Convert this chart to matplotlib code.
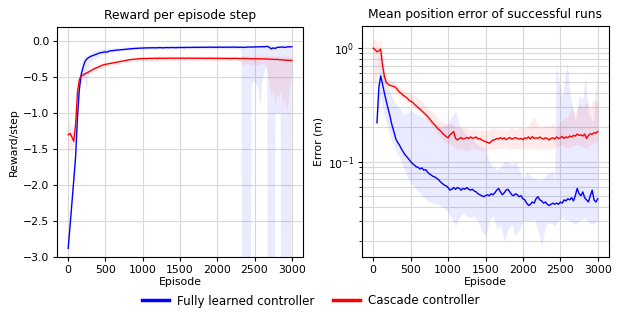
import numpy as np
import matplotlib
matplotlib.use("Agg")
import matplotlib.pyplot as plt

# ---------------- data ----------------
ep_mean = list(range(0, 3001, 25))

# Left: reward per step (means)
rew_fully = [
    -2.88, -2.57, -2.25, -1.93, -1.60, -1.05, -0.66, -0.46, -0.36, -0.28,
    -0.245, -0.225, -0.21, -0.20, -0.19, -0.18, -0.17, -0.16, -0.155, -0.15,
    -0.145, -0.15, -0.135, -0.13, -0.128, -0.125, -0.122, -0.12, -0.117, -0.115,
    -0.112, -0.11, -0.107, -0.104, -0.102, -0.10, -0.098, -0.097, -0.095, -0.094,
    -0.093, -0.092, -0.090, -0.091, -0.089, -0.090, -0.088, -0.090, -0.089, -0.087,
    -0.088, -0.090, -0.087, -0.086, -0.088, -0.086, -0.085, -0.087, -0.088, -0.085,
    -0.086, -0.084, -0.086, -0.085, -0.083, -0.085, -0.084, -0.082, -0.084, -0.083,
    -0.082, -0.084, -0.082, -0.081, -0.083, -0.082, -0.080, -0.082, -0.081, -0.083,
    -0.082, -0.080, -0.081, -0.083, -0.081, -0.080, -0.082, -0.081, -0.079, -0.081,
    -0.080, -0.082, -0.083, -0.080, -0.085, -0.082, -0.080, -0.078, -0.080, -0.079,
    -0.078, -0.076, -0.077, -0.075, -0.074, -0.075, -0.072, -0.070, -0.085, -0.105,
    -0.090, -0.100, -0.085, -0.082, -0.080, -0.078, -0.085, -0.080, -0.075, -0.077,
    -0.074,
]
rew_cascade = [
    -1.30, -1.28, -1.33, -1.39, -1.15, -0.70, -0.53, -0.48, -0.47, -0.45,
    -0.44, -0.425, -0.41, -0.395, -0.38, -0.37, -0.36, -0.345, -0.335, -0.325,
    -0.32, -0.315, -0.31, -0.305, -0.30, -0.295, -0.29, -0.285, -0.28, -0.275,
    -0.27, -0.265, -0.26, -0.255, -0.252, -0.25, -0.247, -0.245, -0.243, -0.240,
    -0.240, -0.238, -0.240, -0.237, -0.236, -0.238, -0.236, -0.235, -0.237, -0.235,
    -0.236, -0.234, -0.236, -0.235, -0.233, -0.235, -0.234, -0.236, -0.233, -0.235,
    -0.234, -0.233, -0.235, -0.236, -0.234, -0.233, -0.235, -0.234, -0.236, -0.234,
    -0.235, -0.236, -0.234, -0.235, -0.237, -0.235, -0.234, -0.236, -0.235, -0.237,
    -0.236, -0.235, -0.237, -0.236, -0.238, -0.236, -0.237, -0.239, -0.237, -0.238,
    -0.236, -0.238, -0.240, -0.238, -0.237, -0.239, -0.238, -0.240, -0.242, -0.240,
    -0.243, -0.240, -0.242, -0.244, -0.243, -0.245, -0.243, -0.246, -0.248, -0.247,
    -0.250, -0.252, -0.250, -0.254, -0.256, -0.258, -0.260, -0.262, -0.263, -0.265,
    -0.265,
]

# Left: bands
band_rf_ep = [0, 25, 50, 75, 100, 125, 150, 175, 200, 225, 250, 275, 300, 350, 400,
              450, 500, 600, 700, 800, 900, 1000, 1500, 2000, 2300, 2325, 2335, 2450,
              2460, 2500, 2550, 2580, 2600, 2640, 2670, 2680, 2770, 2780, 2850, 2860,
              2990, 3000]
band_rf_lo = [-2.90, -2.60, -2.30, -2.00, -1.70, -1.20, -0.80, -0.60, -0.50, -0.55,
              -0.70, -0.45, -0.30, -0.26, -0.23, -0.20, -0.18, -0.16, -0.14, -0.13,
              -0.12, -0.115, -0.11, -0.11, -0.11, -0.12, -6.0, -6.0,
              -0.60, -0.55, -0.65, -0.93, -0.60, -0.40, -0.35, -6.0, -6.0, -1.00,
              -1.00, -6.0, -6.0, -0.60]
band_rf_hi = [-2.85, -2.52, -2.20, -1.88, -1.50, -0.90, -0.55, -0.33, -0.27, -0.22,
              -0.20, -0.19, -0.17, -0.14, -0.12, -0.115, -0.11, -0.10, -0.09, -0.08,
              -0.075, -0.07, -0.065, -0.065, -0.065, -0.065, -0.06, -0.06,
              -0.06, -0.06, -0.06, -0.06, -0.05, -0.05, -0.05, -0.06, -0.06, -0.07,
              -0.06, -0.06, -0.05, -0.05]

band_rc_ep = [0, 25, 50, 75, 100, 125, 150, 175, 200, 250, 300, 400, 500, 600, 700,
              800, 900, 1000, 1100, 1200, 1300, 1400, 1500, 1700, 1900, 2100, 2300,
              2350, 2400, 2450, 2500, 2550, 2600, 2650, 2675, 2700, 2725, 2750, 2775,
              2800, 2825, 2850, 2875, 2900, 2925, 2950, 2975, 3000]
band_rc_lo = [-1.55, -1.50, -1.50, -1.48, -1.25, -0.78, -0.58, -0.52, -0.50, -0.47,
              -0.44, -0.39, -0.35, -0.33, -0.31, -0.29, -0.28, -0.27, -0.27, -0.27,
              -0.27, -0.27, -0.265, -0.265, -0.27, -0.27, -0.27,
              -0.33, -0.30, -0.33, -0.32, -0.34, -0.30, -0.33, -0.45, -0.60, -0.75,
              -0.65, -0.88, -0.70, -0.80, -0.65, -0.92, -0.75, -0.97, -0.85, -0.60,
              -0.50]
band_rc_hi = [-1.13, -1.15, -1.20, -1.30, -1.05, -0.62, -0.49, -0.45, -0.44, -0.41,
              -0.38, -0.33, -0.29, -0.27, -0.25, -0.23, -0.22, -0.21, -0.21, -0.20,
              -0.20, -0.20, -0.205, -0.205, -0.205, -0.21, -0.21,
              -0.20, -0.20, -0.21, -0.20, -0.20, -0.20, -0.20, -0.20, -0.20, -0.20,
              -0.20, -0.21, -0.20, -0.20, -0.21, -0.21, -0.20, -0.22, -0.20, -0.21,
              -0.21]

# Right: position error (means)
err_fully = [
    np.nan, np.nan, 0.22, 0.45, 0.57, 0.48, 0.40, 0.34, 0.29, 0.25,
    0.21, 0.185, 0.16, 0.148, 0.14, 0.13, 0.122, 0.115, 0.11, 0.105,
    0.100, 0.096, 0.093, 0.090, 0.089, 0.086, 0.088, 0.084, 0.085, 0.081,
    0.078, 0.076, 0.074, 0.073, 0.071, 0.069, 0.066, 0.064, 0.062, 0.061,
    0.059, 0.056, 0.057, 0.059, 0.057, 0.059, 0.058, 0.056, 0.058, 0.057,
    0.059, 0.057, 0.056, 0.057, 0.055, 0.054, 0.052, 0.051, 0.050, 0.049,
    0.050, 0.051, 0.050, 0.052, 0.051, 0.053, 0.056, 0.058, 0.054, 0.051,
    0.053, 0.056, 0.057, 0.054, 0.051, 0.050, 0.052, 0.051, 0.049, 0.050,
    0.047, 0.046, 0.043, 0.041, 0.042, 0.044, 0.043, 0.047, 0.049, 0.046,
    0.045, 0.043, 0.044, 0.042, 0.041, 0.042, 0.043, 0.042, 0.043, 0.042,
    0.044, 0.043, 0.046, 0.045, 0.047, 0.046, 0.048, 0.045, 0.050, 0.058,
    0.052, 0.050, 0.054, 0.048, 0.046, 0.044, 0.050, 0.056, 0.046, 0.044,
    0.047,
]
err_cascade = [
    1.00, 0.97, 0.93, 0.95, 0.98, 0.70, 0.56, 0.50, 0.48, 0.47,
    0.465, 0.46, 0.45, 0.43, 0.41, 0.40, 0.385, 0.375, 0.365, 0.35,
    0.34, 0.335, 0.32, 0.31, 0.30, 0.29, 0.28, 0.27, 0.26, 0.25,
    0.24, 0.228, 0.218, 0.21, 0.20, 0.192, 0.186, 0.178, 0.172, 0.166,
    0.162, 0.172, 0.178, 0.184, 0.160, 0.155, 0.160, 0.163, 0.158, 0.160,
    0.163, 0.160, 0.165, 0.160, 0.162, 0.165, 0.158, 0.160, 0.155, 0.152,
    0.150, 0.148, 0.145, 0.150, 0.155, 0.156, 0.160, 0.158, 0.163, 0.158,
    0.162, 0.156, 0.160, 0.163, 0.158, 0.160, 0.163, 0.160, 0.158, 0.160,
    0.156, 0.162, 0.160, 0.165, 0.158, 0.166, 0.160, 0.162, 0.160, 0.165,
    0.160, 0.158, 0.162, 0.160, 0.155, 0.160, 0.162, 0.158, 0.165, 0.160,
    0.162, 0.167, 0.160, 0.165, 0.162, 0.168, 0.165, 0.170, 0.168, 0.175,
    0.170, 0.172, 0.168, 0.175, 0.160, 0.170, 0.176, 0.174, 0.180, 0.178,
    0.184,
]

# Right: bands
band_ef_ep = [50, 75, 100, 125, 150, 200, 250, 300, 350, 400, 450, 500, 550, 600,
              650, 700, 750, 800, 850, 900, 950, 1000, 1050, 1100, 1150, 1200, 1250,
              1300, 1350, 1400, 1450, 1500, 1550, 1600, 1650, 1700, 1750, 1800, 1850,
              1900, 1950, 2000, 2050, 2100, 2150, 2200, 2250, 2300, 2350, 2400, 2425,
              2440, 2475, 2525, 2550, 2590, 2625, 2700, 2750, 2800, 2830, 2875, 2940,
              2990, 3000]
band_ef_lo = [0.21, 0.30, 0.40, 0.30, 0.25, 0.19, 0.15, 0.125, 0.11, 0.09, 0.075,
              0.065, 0.06, 0.055, 0.05, 0.047, 0.044, 0.043, 0.042, 0.041, 0.039,
              0.036, 0.031, 0.027, 0.032, 0.035, 0.033, 0.032, 0.033, 0.030, 0.024,
              0.022, 0.030, 0.033, 0.026, 0.027, 0.020, 0.025, 0.028, 0.022, 0.025,
              0.030, 0.030, 0.030, 0.031, 0.025, 0.018, 0.027, 0.029, 0.028, 0.027,
              0.028, 0.030, 0.032, 0.031, 0.031, 0.030, 0.028, 0.030, 0.031, 0.032,
              0.029, 0.028, 0.030, 0.029]
band_ef_hi = [0.25, 0.85, 0.90, 0.70, 0.58, 0.45, 0.37, 0.32, 0.30, 0.26, 0.27,
              0.28, 0.27, 0.26, 0.25, 0.245, 0.235, 0.22, 0.21, 0.20, 0.21,
              0.22, 0.25, 0.28, 0.21, 0.19, 0.17, 0.16, 0.15, 0.14, 0.135,
              0.13, 0.10, 0.09, 0.085, 0.09, 0.10, 0.10, 0.095, 0.10, 0.085,
              0.07, 0.08, 0.075, 0.07, 0.07, 0.068, 0.075, 0.08, 0.082, 0.066,
              0.75, 0.54, 0.36, 0.50, 0.76, 0.42, 0.22, 0.38, 0.35, 0.58,
              0.27, 0.22, 0.62, 0.30]

band_ec_ep = [0, 25, 50, 75, 100, 125, 150, 175, 200, 250, 300, 350, 400, 450, 500,
              550, 600, 650, 700, 750, 800, 850, 900, 950, 1000, 1050, 1100, 1150,
              1200, 1250, 1300, 1350, 1400, 1450, 1500, 1550, 1600, 1650, 1700, 1750,
              1800, 1850, 1900, 1950, 2000, 2050, 2100, 2150, 2200, 2250, 2300, 2350,
              2400, 2450, 2500, 2550, 2600, 2650, 2700, 2750, 2800, 2850, 2900, 2950,
              3000]
band_ec_lo = [0.50, 0.48, 0.55, 0.70, 0.80, 0.55, 0.48, 0.46, 0.45, 0.43, 0.41,
              0.38, 0.36, 0.34, 0.32, 0.30, 0.28, 0.26, 0.24, 0.22, 0.20, 0.18,
              0.165, 0.15, 0.145, 0.14, 0.13, 0.13, 0.128, 0.125, 0.13, 0.13,
              0.128, 0.125, 0.125, 0.13, 0.128, 0.13, 0.13, 0.132, 0.13, 0.128,
              0.13, 0.13, 0.128, 0.13, 0.13, 0.13, 0.128, 0.13, 0.13, 0.128,
              0.13, 0.135, 0.14, 0.135, 0.13, 0.135, 0.14, 0.14, 0.135, 0.13,
              0.14, 0.145, 0.15]
band_ec_hi = [1.20, 1.20, 1.15, 1.10, 1.25, 0.85, 0.68, 0.57, 0.53, 0.52, 0.50,
              0.46, 0.43, 0.41, 0.40, 0.38, 0.36, 0.34, 0.31, 0.29, 0.27, 0.25,
              0.23, 0.22, 0.21, 0.22, 0.20, 0.20, 0.20, 0.20, 0.19, 0.195,
              0.19, 0.19, 0.19, 0.19, 0.20, 0.19, 0.195, 0.19, 0.19, 0.20,
              0.19, 0.20, 0.20, 0.20, 0.22, 0.25, 0.21, 0.20, 0.21, 0.20,
              0.22, 0.20, 0.22, 0.24, 0.25, 0.30, 0.27, 0.32, 0.30, 0.34,
              0.30, 0.36, 0.33]

labels = ["Fully learned controller", "Cascade controller"]
titles = ["Reward per episode step", "Mean position error of successful runs"]

# ---------------- plot ----------------
BLUE = "#0000ff"
RED = "#ff0000"
plt.rcParams["font.family"] = "DejaVu Sans"

fig = plt.figure(figsize=(6.23, 3.12), dpi=100)
ax1 = fig.add_axes([57 / 623, 1 - 257 / 312, 246 / 623, 230 / 312])
ax2 = fig.add_axes([362 / 623, 1 - 257 / 312, 247 / 623, 231 / 312])

grid_kw = dict(color="#d8d8d8", linewidth=0.8)
TICK = 7.8
LAB = 7.8
TIT = 8.8

# left
ax1.fill_between(band_rf_ep, band_rf_lo, band_rf_hi, color=BLUE, alpha=0.08, linewidth=0)
ax1.fill_between(band_rc_ep, band_rc_lo, band_rc_hi, color=RED, alpha=0.08, linewidth=0)
l1, = ax1.plot(ep_mean, rew_fully, color=BLUE, linewidth=1.0)
l2, = ax1.plot(ep_mean, rew_cascade, color=RED, linewidth=1.0)
ax1.set_ylim(-3.0, 0.2)
ax1.set_xlim(-150, 3150)
ax1.set_xticks([0, 500, 1000, 1500, 2000, 2500, 3000])
ax1.set_yticks([-3.0, -2.5, -2.0, -1.5, -1.0, -0.5, 0.0])
ax1.grid(True, **grid_kw)
ax1.set_axisbelow(True)
ax1.set_title(titles[0], fontsize=TIT)
ax1.set_xlabel("Episode", fontsize=LAB)
ax1.set_ylabel("Reward/step", fontsize=LAB)

# right
ax2.fill_between(band_ef_ep, band_ef_lo, band_ef_hi, color=BLUE, alpha=0.08, linewidth=0)
ax2.fill_between(band_ec_ep, band_ec_lo, band_ec_hi, color=RED, alpha=0.08, linewidth=0)
ax2.plot(ep_mean, err_fully, color=BLUE, linewidth=1.0)
ax2.plot(ep_mean, err_cascade, color=RED, linewidth=1.0)
ax2.set_yscale("log")
ax2.set_ylim(0.0144, 1.57)
ax2.set_xlim(-150, 3150)
ax2.set_xticks([0, 500, 1000, 1500, 2000, 2500, 3000])
ax2.grid(True, which="major", **grid_kw)
ax2.grid(True, which="minor", axis="y", **grid_kw)
ax2.set_axisbelow(True)
ax2.set_title(titles[1], fontsize=TIT)
ax2.set_xlabel("Episode", fontsize=LAB)
ax2.set_ylabel("Error (m)", fontsize=LAB)

for ax in (ax1, ax2):
    ax.tick_params(labelsize=TICK, length=3, width=0.8, pad=2.5)
    ax.tick_params(which="minor", length=2, width=0.6)
    for s in ax.spines.values():
        s.set_linewidth(0.8)
    ax.xaxis.labelpad = 2
    ax.yaxis.labelpad = 3

fig.legend([l1, l2], labels, loc="center", bbox_to_anchor=(311 / 623, 1 - 301 / 312),
           ncol=2, frameon=False, fontsize=8.6, handlelength=2.2, columnspacing=1.6,
           handletextpad=0.7)
for h in fig.legends[0].legend_handles:
    h.set_linewidth(2.5)

fig.savefig("out.png", dpi=100)
